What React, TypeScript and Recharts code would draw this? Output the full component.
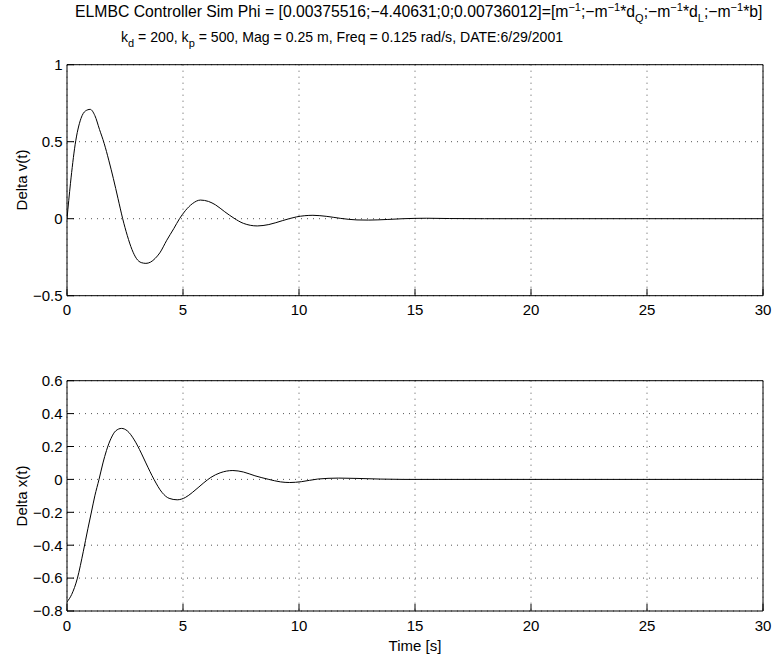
import { LineChart, Line, XAxis, YAxis, CartesianGrid } from "recharts";

// time stamps and response values
const tV = [0, 0.15, 0.35, 0.6, 0.8, 1.0, 1.2, 1.4, 1.6, 1.8, 2.0, 2.2, 2.4, 2.6, 2.8, 3.0, 3.2, 3.4, 3.6, 3.8, 4.0, 4.3, 4.6, 4.85, 5.1, 5.4, 5.75, 6.1, 6.4, 6.8, 7.2, 7.6, 8.2, 8.7, 9.3, 9.9, 10.6, 11.2, 11.8, 12.5, 13.0, 13.8, 14.5, 15.5, 16.5, 18, 20, 25, 30];
const deltaV = [0, 0.23, 0.48, 0.65, 0.70, 0.71, 0.67, 0.58, 0.49, 0.38, 0.26, 0.13, 0.0, -0.11, -0.2, -0.26, -0.285, -0.29, -0.282, -0.258, -0.222, -0.14, -0.065, 0.0, 0.052, 0.097, 0.121, 0.112, 0.09, 0.045, 0.003, -0.03, -0.047, -0.038, -0.012, 0.012, 0.022, 0.015, 0.002, -0.008, -0.009, -0.005, 0.0, 0.003, 0.001, 0, 0, 0, 0];

const tX = [0, 0.2, 0.45, 0.7, 0.9, 1.05, 1.2, 1.38, 1.55, 1.7, 1.9, 2.1, 2.35, 2.6, 2.9, 3.2, 3.4, 3.75, 4.1, 4.4, 4.75, 5.1, 5.4, 5.9, 6.2, 6.6, 7.15, 7.6, 8.1, 8.7, 9.2, 9.6, 10.1, 10.8, 11.7, 12.5, 13.5, 14.5, 16, 20, 25, 30];
const deltaX = [-0.745, -0.7, -0.6, -0.44, -0.3, -0.2, -0.1, 0.0, 0.1, 0.175, 0.25, 0.295, 0.31, 0.295, 0.24, 0.16, 0.1, 0.0, -0.08, -0.115, -0.124, -0.11, -0.08, -0.02, 0.012, 0.04, 0.054, 0.045, 0.022, 0.0, -0.015, -0.019, -0.014, 0.002, 0.008, 0.006, 0.002, 0, 0, 0, 0, 0];

const timeTicks = [0, 5, 10, 15, 20, 25, 30];
const vTicks = [-0.5, 0, 0.5, 1];
const xTicks = [-0.8, -0.6, -0.4, -0.2, 0, 0.2, 0.4, 0.6];

const dataV = tV.map((t, i) => ({ t, y: deltaV[i] }));
const dataX = tX.map((t, i) => ({ t, y: deltaX[i] }));

const font = "'Liberation Sans', Arial, sans-serif";
const fmt = (v: number) => String(v).replace("-", "\u2212");
const tickStyle = { fill: "#000", fontSize: 15, fontFamily: font };

function SubPlot({ data, yTicks, height, plotTop, plotBottom }) {
  const yDomain = [yTicks[0], yTicks[yTicks.length - 1]];
  return (
    <div style={{ position: "absolute", left: 0, top: 0 }}>
      <LineChart
        width={773}
        height={height}
        data={data}
        margin={{ top: plotTop - 1, right: 9, bottom: 0, left: 0 }}
      >
        <CartesianGrid stroke="#555" strokeDasharray="1 5" />
        <XAxis
          dataKey="t"
          type="number"
          domain={[0, 30]}
          ticks={timeTicks}
          allowDataOverflow
          height={height - plotBottom}
          tickSize={-7}
          tickMargin={16}
          tick={tickStyle}
          stroke="#000"
          interval={0}
        />
        <XAxis
          xAxisId="top"
          orientation="top"
          type="number"
          domain={[0, 30]}
          ticks={timeTicks}
          allowDataOverflow
          height={1}
          tickSize={-7}
          tick={false}
          stroke="#000"
          interval={0}
        />
        <YAxis
          type="number"
          domain={yDomain}
          ticks={yTicks}
          allowDataOverflow
          width={67}
          tickSize={-7}
          tickMargin={11.5}
          tick={tickStyle}
          tickFormatter={fmt}
          stroke="#000"
          interval={0}
        />
        <YAxis
          yAxisId="right"
          orientation="right"
          type="number"
          domain={yDomain}
          ticks={yTicks}
          allowDataOverflow
          width={1}
          tickSize={-7}
          tick={false}
          stroke="#000"
          interval={0}
        />
        <Line
          dataKey="y"
          type="monotone"
          stroke="#000"
          strokeWidth={1}
          dot={false}
          isAnimationActive={false}
        />
      </LineChart>
    </div>
  );
}

const supStyle = { fontSize: 11, position: "relative" as const, top: -6 };
const subStyle = { fontSize: 11, position: "relative" as const, top: 5 };

export default function App() {
  return (
    <div
      style={{
        position: "absolute",
        left: 0,
        top: 0,
        width: 773,
        height: 658,
        background: "#fff",
        fontFamily: font,
        color: "#000",
        overflow: "hidden",
      }}
    >
      <SubPlot data={dataV} yTicks={vTicks} height={325} plotTop={64.7} plotBottom={295.7} />
      <SubPlot data={dataX} yTicks={xTicks} height={658} plotTop={380.7} plotBottom={611} />

      <div style={{ position: "absolute", left: 75, top: 3, fontSize: 15.75, whiteSpace: "nowrap", lineHeight: "18px" }}>
        ELMBC Controller Sim Phi = [0.00375516;−4.40631;0;0.00736012]=[m<span style={supStyle}>−1</span>;−m
        <span style={supStyle}>−1</span>*d<span style={subStyle}>Q</span>;−m<span style={supStyle}>−1</span>*d
        <span style={subStyle}>L</span>;−m<span style={supStyle}>−1</span>*b]
      </div>
      <div style={{ position: "absolute", left: 121, top: 28, fontSize: 14.1, whiteSpace: "nowrap", lineHeight: "18px" }}>
        k<span style={subStyle}>d</span> = 200, k<span style={subStyle}>p</span> = 500, Mag = 0.25 m, Freq = 0.125 rad/s, DATE:6/29/2001
      </div>

      <div style={{ position: "absolute", left: 21, top: 180, fontSize: 15, whiteSpace: "nowrap", transform: "translate(-50%, -50%) rotate(-90deg)" }}>
        Delta v(t)
      </div>
      <div style={{ position: "absolute", left: 21, top: 496, fontSize: 15, whiteSpace: "nowrap", transform: "translate(-50%, -50%) rotate(-90deg)" }}>
        Delta x(t)
      </div>
      <div style={{ position: "absolute", left: 415, top: 645, fontSize: 15, whiteSpace: "nowrap", transform: "translate(-50%, -50%)" }}>
        Time [s]
      </div>
    </div>
  );
}
